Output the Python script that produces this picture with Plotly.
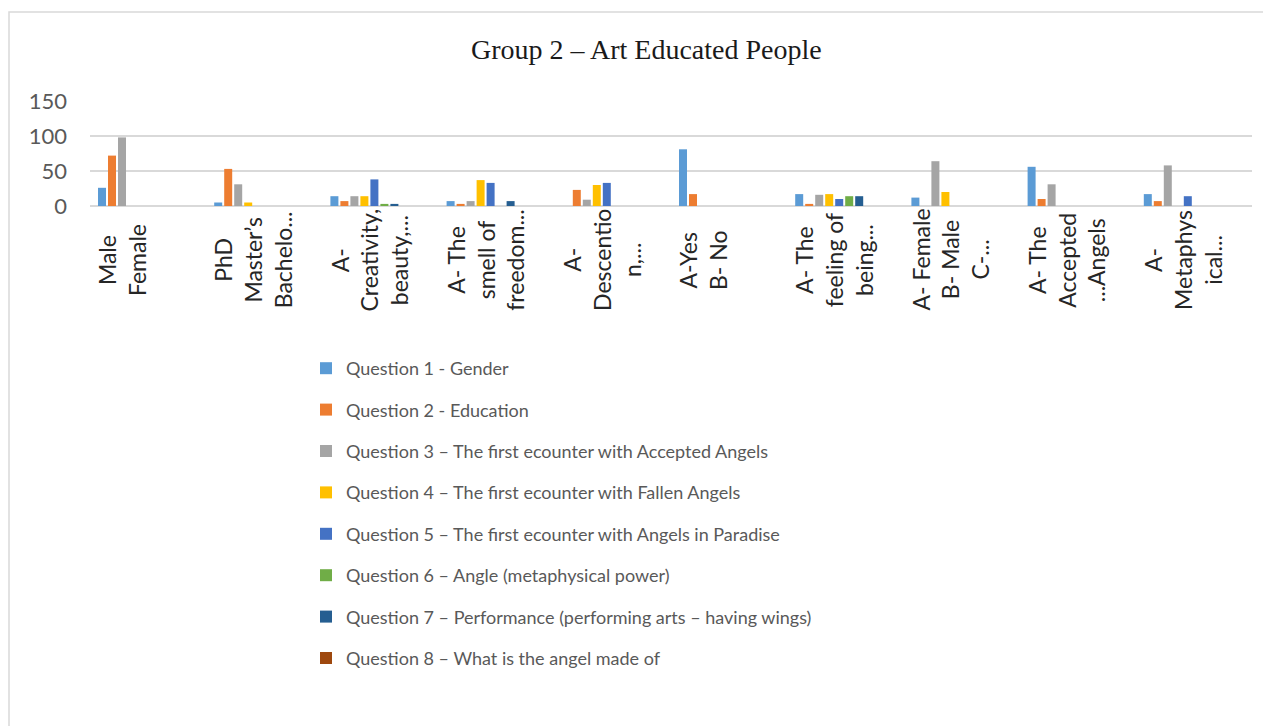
import plotly.graph_objects as go

categories = [
    "Male<br>Female<br> ",
    "PhD<br>Master’s<br>Bachelo...",
    "A-<br>Creativity,<br>beauty,...",
    "A- The<br>smell of<br>freedom...",
    "A-<br>Descentio<br>n,...",
    "A-Yes<br>B- No<br> ",
    "A- The<br>feeling of<br>being...",
    "A- Female<br>B- Male<br>C-...",
    "A- The<br>Accepted<br>...Angels",
    "A-<br>Metaphys<br>ical...",
]

series_names = [
    "Question 1 - Gender",
    "Question 2 - Education",
    "Question 3 – The first ecounter with Accepted Angels",
    "Question 4 – The first ecounter with Fallen Angels",
    "Question 5 – The first ecounter with Angels in Paradise",
    "Question 6 – Angle (metaphysical power)",
    "Question 7 – Performance (performing arts – having wings)",
    "Question 8 – What is the angel made of",
]

q1 = [26, 5, 14, 7, 0, 81, 17, 12, 56, 17]
q2 = [72, 53, 7, 3, 23, 17, 3, 0, 10, 7]
q3 = [98, 31, 14, 7, 9, 0, 16, 64, 31, 58]
q4 = [0, 5, 14, 37, 30, 0, 17, 20, 0, 0]
q5 = [0, 0, 38, 33, 33, 0, 10, 0, 0, 14]
q6 = [0, 0, 3, 0, 0, 0, 14, 0, 0, 0]
q7 = [0, 0, 3, 7, 0, 0, 14, 0, 0, 0]
q8 = [0, 0, 0, 0, 0, 0, 0, 0, 0, 0]
series_values = [q1, q2, q3, q4, q5, q6, q7, q8]

colors = ["#5B9BD5", "#ED7D31", "#A5A5A5", "#FFC000",
          "#4472C4", "#70AD47", "#255E91", "#9E480E"]

# page body has an 8px margin; figure is sized so it fits the window
OFF = 8
W, H = 1271 - OFF, 726 - OFF
L = 90 - OFF
R = W - (1252 - OFF)
T = 101 - OFF
B = H - (206 - OFF)
plot_w = W - L - R
plot_h = H - T - B
cat_px = plot_w / len(categories)
slot_px = 10.0
bar_px = 8.0
first_px = 8.0

def xp(px):  # px measured in the window
    return (px - OFF - L) / plot_w

def yp(py):
    return (H - B - (py - OFF)) / plot_h

fig = go.Figure()
for i, (name, vals, col) in enumerate(zip(series_names, series_values, colors)):
    fig.add_trace(go.Bar(
        x=categories, y=vals, name=name,
        marker=dict(color=col, line=dict(width=0)),
        width=bar_px / cat_px,
        offset=-0.5 + (first_px + i * slot_px) / cat_px,
        legendgroup=f"g{i}",
    ))

annotations = []
for c in categories:
    annotations.append(dict(
        x=c, xref="x", y=yp(260), yref="paper",
        text=c, showarrow=False, textangle=-90,
        xanchor="center", yanchor="middle", align="center",
        xshift=-11,
        font=dict(family="Lato", size=23, color="#262626"),
    ))
annotations.append(dict(
    x=xp(646), xref="paper", y=yp(50), yref="paper",
    text="Group 2 – Art Educated People", showarrow=False,
    xanchor="center", yanchor="middle",
    font=dict(family="Liberation Serif", size=28, color="#1a1a1a"),
))

fig.update_layout(
    width=W, height=H,
    margin=dict(l=L, r=R, t=T, b=B, autoexpand=False),
    paper_bgcolor="white", plot_bgcolor="white",
    barmode="overlay",
    showlegend=True,
    legend=dict(
        x=xp(306), y=yp(350), xanchor="left", yanchor="top",
        font=dict(family="Lato", size=18, color="#595959"),
        traceorder="grouped", tracegroupgap=15,
        bgcolor="rgba(0,0,0,0)",
    ),
    xaxis=dict(
        range=[-0.5, len(categories) - 0.5],
        showticklabels=False, showgrid=False, zeroline=False,
        showline=False, ticks="",
    ),
    yaxis=dict(
        range=[0, 150], tickvals=[0, 50, 100, 150],
        showgrid=True, gridcolor="#d9d9d9", gridwidth=1.5,
        zeroline=True, zerolinecolor="#d9d9d9", zerolinewidth=1.5,
        showline=False, ticks="",
        ticklabelstandoff=22,
        tickfont=dict(family="Lato", size=22, color="#595959"),
    ),
    annotations=annotations,
    shapes=[dict(
        type="rect", xref="paper", yref="paper",
        x0=xp(9), x1=xp(1300), y0=yp(760), y1=yp(12),
        line=dict(color="#d9d9d9", width=1.5), fillcolor="rgba(0,0,0,0)",
        layer="below",
    )],
)

fig.write_html("out.html")
